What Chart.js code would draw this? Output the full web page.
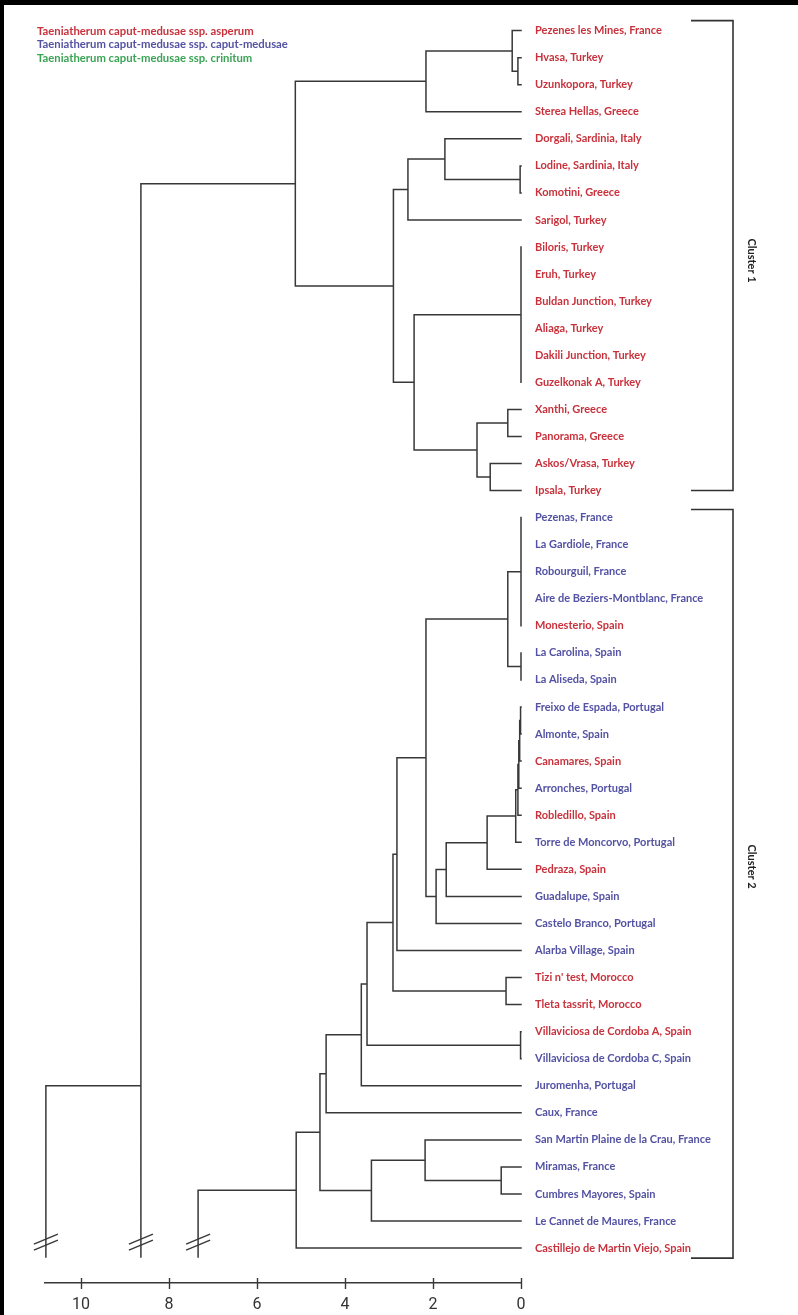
<!DOCTYPE html>
<html><head><meta charset="utf-8">
<script src="https://cdn.jsdelivr.net/npm/chart.js@4.4.1/dist/chart.umd.min.js"></script>
<style>html,body{margin:0;padding:0;background:#fff;}#wrap{position:relative;width:798px;height:1315px;}canvas{display:block;}</style>
</head><body><div id="wrap"><canvas id="c" width="798" height="1315"></canvas></div>
<script>
// ---------- DATA ----------
const leafNames = [
  "Pezenes les Mines, France","Hvasa, Turkey","Uzunkopora, Turkey","Sterea Hellas, Greece",
  "Dorgali, Sardinia, Italy","Lodine, Sardinia, Italy","Komotini, Greece","Sarigol, Turkey",
  "Biloris, Turkey","Eruh, Turkey","Buldan Junction, Turkey","Aliaga, Turkey",
  "Dakili Junction, Turkey","Guzelkonak A, Turkey","Xanthi, Greece","Panorama, Greece",
  "Askos/Vrasa, Turkey","Ipsala, Turkey",
  "Pezenas, France","La Gardiole, France","Robourguil, France","Aire de Beziers-Montblanc, France",
  "Monesterio, Spain","La Carolina, Spain","La Aliseda, Spain","Freixo de Espada, Portugal",
  "Almonte, Spain","Canamares, Spain","Arronches, Portugal","Robledillo, Spain",
  "Torre de Moncorvo, Portugal","Pedraza, Spain","Guadalupe, Spain","Castelo Branco, Portugal",
  "Alarba Village, Spain","Tizi n' test, Morocco","Tleta tassrit, Morocco",
  "Villaviciosa de Cordoba A, Spain","Villaviciosa de Cordoba C, Spain","Juromenha, Portugal",
  "Caux, France","San Martin Plaine de la Crau, France","Miramas, France","Cumbres Mayores, Spain",
  "Le Cannet de Maures, France","Castillejo de Martin Viejo, Spain"
];
// a = ssp. asperum, c = ssp. caput-medusae
const leafSubspecies = [
  "a","a","a","a","a","a","a","a","a","a","a","a","a","a","a","a","a","a",
  "c","c","c","c","a","c","c","c","c","a","c","a","c","a","c","c","c","a","a",
  "a","c","c","c","c","c","c","c","a"
];
const subspeciesKeys = ["a","c","k"];
const subspeciesNames = [
  "Taeniatherum caput-medusae ssp. asperum",
  "Taeniatherum caput-medusae ssp. caput-medusae",
  "Taeniatherum caput-medusae ssp. crinitum"
];
// merges: children ids (leaves 0..45, merge k -> id 46+k) and joining distance
const mergeChildren = [
  [1,2],[0,46],[47,3],[5,6],[4,49],[50,7],[8,9,10,11,12,13],[14,15],[16,17],[53,54],
  [52,55],[51,56],[48,57],
  [18,19,20,21,22],[23,24],[59,60],[25,26],[62,27],[63,28],[64,29],[65,30],[66,31],
  [67,32],[68,33],[61,69],[70,34],[35,36],[71,72],[37,38],[73,74],[75,39],[76,40],
  [42,43],[41,78],[79,44],[77,80],[81,45]
];
const mergeHeights = [
  0.07,0.2,2.16,0.02,1.73,2.57,0.0,0.3,0.7,1.0,
  2.43,2.9,5.13,
  0.0,0.0,0.3,0.01,0.03,0.05,0.07,0.12,0.77,
  1.7,1.93,2.16,2.82,0.34,2.91,0.01,3.5,3.63,4.43,
  0.45,2.18,3.4,4.57,5.11
];
// branches continuing beyond the axis break
const brokenRootIds = [58, 82];
const brokenRootHeights = [8.64, 7.34];
const outgroupHeight = 10.8;
const outgroupJoinLeaf = 39;
const xTickValues = [0, 2, 4, 6, 8, 10];
const clusterNames = ["Cluster 1", "Cluster 2"];
const clusterFirstLeaf = [0, 18];
const clusterLastLeaf = [17, 45];

// ---------- STYLE ----------
const subspeciesColors = { a: "#c8323c", c: "#5352a3", k: "#3aa455" };
const lineColor = "#383838";
const labelFont = "Lato";
const nLeaf = leafNames.length;
const stemBottom = nLeaf - 1 + 0.33;
const breakAt = nLeaf - 1 - 0.22;
const clusterTopPad = [0.37, 0.3];
const clusterBottomPad = [0.0, 0.37];
const clusterLabelAt = [8.5, 30.9];

// ---------- build dendrogram segments ----------
const nodeY = leafNames.map((_, i) => i);
const nodeH = leafNames.map(() => 0);
const segs = [];
mergeChildren.forEach((ch, k) => {
  const h = mergeHeights[k];
  const ys = ch.map(c => nodeY[c]);
  const y0 = Math.min(...ys), y1 = Math.max(...ys);
  ch.forEach(c => { if (nodeH[c] !== h) segs.push([{x: nodeH[c], y: nodeY[c]}, {x: h, y: nodeY[c]}]); });
  segs.push([{x: h, y: y0}, {x: h, y: y1}]);
  nodeY.push((y0 + y1) / 2);
  nodeH.push(h);
});
brokenRootIds.forEach((id, i) => {
  const h = brokenRootHeights[i];
  segs.push([{x: nodeH[id], y: nodeY[id]}, {x: h, y: nodeY[id]}, {x: h, y: stemBottom}]);
});
segs.push([{x: brokenRootHeights[0], y: outgroupJoinLeaf}, {x: outgroupHeight, y: outgroupJoinLeaf}, {x: outgroupHeight, y: stemBottom}]);
const lineData = [];
segs.forEach(s => { s.forEach(p => lineData.push(p)); lineData.push({x: s[s.length-1].x, y: null}); });
const breakValues = brokenRootHeights.concat([outgroupHeight]);

// ---------- plugins ----------
const decor = {
  id: "decor",
  beforeDraw(chart) {
    const ctx = chart.ctx;
    ctx.save();
    ctx.fillStyle = "#fff"; ctx.fillRect(0, 0, chart.width, chart.height);
    ctx.fillStyle = "#000"; ctx.fillRect(0, 0, chart.width, 5); ctx.fillRect(0, 0, 4, chart.height);
    ctx.restore();
  },
  afterDraw(chart) {
    const ctx = chart.ctx, xs = chart.scales.x, ys = chart.scales.y;
    ctx.save();
    ctx.strokeStyle = lineColor; ctx.lineWidth = 1.4;
    const b = chart.chartArea.bottom;
    xTickValues.forEach(v => {
      const px = Math.round(xs.getPixelForValue(v)) + 0.5;
      ctx.beginPath(); ctx.moveTo(px, b - 5); ctx.lineTo(px, b + 6); ctx.stroke();
    });
    const by = ys.getPixelForValue(breakAt);
    breakValues.forEach(v => {
      const px = xs.getPixelForValue(v);
      [-3, 3].forEach(o => {
        ctx.beginPath(); ctx.moveTo(px - 12, by + 5 + o); ctx.lineTo(px + 12, by - 5 + o); ctx.stroke();
      });
    });
    ctx.lineWidth = 1.6; ctx.strokeStyle = "#333";
    clusterNames.forEach((name, i) => {
      const t = ys.getPixelForValue(clusterFirstLeaf[i] - clusterTopPad[i]);
      const bt = ys.getPixelForValue(clusterLastLeaf[i] + clusterBottomPad[i]);
      ctx.beginPath(); ctx.moveTo(691, t); ctx.lineTo(733, t); ctx.lineTo(733, bt); ctx.lineTo(691, bt); ctx.stroke();
      ctx.save();
      ctx.translate(752, ys.getPixelForValue(clusterLabelAt[i]));
      ctx.rotate(Math.PI / 2);
      ctx.fillStyle = "#222"; ctx.font = "bold 11px " + labelFont;
      ctx.textAlign = "center"; ctx.textBaseline = "middle";
      ctx.fillText(name, 0, 0);
      ctx.restore();
    });
    ctx.font = "bold 11.3px " + labelFont; ctx.textAlign = "left"; ctx.textBaseline = "middle";
    subspeciesNames.forEach((n, i) => {
      ctx.fillStyle = subspeciesColors[subspeciesKeys[i]];
      ctx.fillText(n, 37, 31.5 + i * 13.3);
    });
    ctx.restore();
  }
};

new Chart(document.getElementById("c"), {
  type: "line",
  data: { datasets: [{
    data: lineData, borderColor: lineColor, borderWidth: 1.5, pointRadius: 0, pointHoverRadius: 0,
    tension: 0, spanGaps: false, fill: false, clip: false, borderJoinStyle: "miter", borderCapStyle: "square"
  }]},
  options: {
    responsive: false, animation: false, events: [],
    layout: { padding: { left: 45, top: 10, right: 0, bottom: 0 } },
    plugins: { legend: { display: false }, tooltip: { enabled: false } },
    scales: {
      x: {
        type: "linear", reverse: true, min: 0, max: 10.82, position: "bottom",
        afterFit: s => { s.height = 32; },
        afterBuildTicks: s => { s.ticks = xTickValues.map(v => ({ value: v })); },
        grid: { display: false, drawTicks: false },
        border: { display: true, color: lineColor, width: 1.4 },
        ticks: { padding: 12, color: "#333", font: { family: "Roboto, sans-serif", size: 16 } }
      },
      y: {
        type: "linear", position: "right", reverse: true, min: -0.37, max: 46.29,
        afterFit: s => { s.width = 277; },
        afterBuildTicks: s => { s.ticks = leafNames.map((_, i) => ({ value: i })); },
        grid: { display: false, drawTicks: false },
        border: { display: false },
        ticks: {
          autoSkip: false, padding: 14,
          font: { family: labelFont, weight: "bold", size: 11 },
          color: c => subspeciesColors[leafSubspecies[Math.round(c.tick.value)]],
          callback: v => leafNames[Math.round(v)]
        }
      }
    }
  },
  plugins: [decor]
});
</script></body></html>
